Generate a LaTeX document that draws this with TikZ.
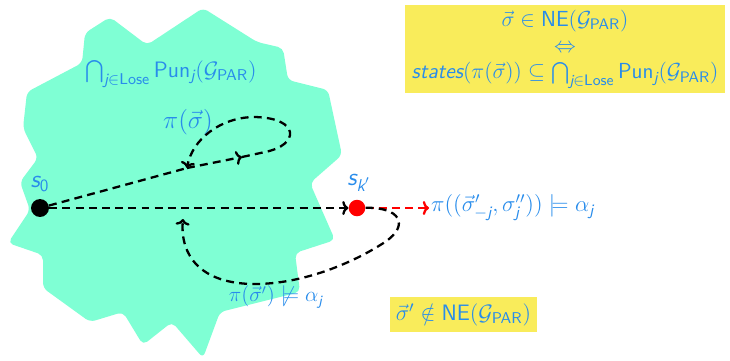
\RequirePackage{fix-cm}
\documentclass[tikz,border=0pt]{standalone}
\usepackage{amsmath,amssymb}
\usetikzlibrary{arrows.meta}
\definecolor{aqua}{RGB}{127,255,212}
\definecolor{lblblue}{RGB}{40,140,235}
\definecolor{boxyellow}{RGB}{249,236,91}
\newcommand{\sfit}[1]{\textsf{\itshape #1}}
\newcommand{\gpar}{\mathcal G_{\textsf{PAR}}}

\begin{document}
\begin{tikzpicture}[x=0.02cm,y=-0.02cm,>={To[length=3.5pt,width=8pt]},
    run/.style={line width=1.3pt,dash pattern=on 4.5pt off 3pt},
    lbl/.style={text=lblblue,inner sep=1pt},
    big/.style={font=\fontsize{12.7}{15}\selectfont},
    mid/.style={font=\fontsize{12}{14}\selectfont},
    state/.style={circle,inner sep=0pt},
    claim/.style={fill=boxyellow,text=lblblue,align=center,inner sep=2pt}]
  \useasboundingbox (0,0) rectangle (730,360);
  % region where the losers can be punished
  \fill[aqua,rounded corners=3pt] (110,17) -- (147,45) -- (203,8) -- (257,42)
    -- (283,48) -- (288,80) -- (328,90) -- (342,155) -- (310,183) -- (335,240)
    -- (295,253) -- (300,292) -- (220,312) -- (203,358) -- (172,322)
    -- (143,345) -- (123,312) -- (90,322) -- (43,288) -- (43,255) -- (8,243)
    -- (30,210) -- (20,182) -- (38,158) -- (23,128) -- (27,92) -- (82,63)
    -- (85,33) -- cycle;
  \node[lbl,big] (punlbl) at (171,74)
    {$\bigcap_{\sfit{j}\in\textsf{Lose}}\textsf{Pun}_{\sfit{j}}(\gpar)$};

  \node[state,fill=black,minimum size=10.2pt] (s0) at (40,208) {};
  \node[state,fill=red,minimum size=9.4pt] (sk) at (357,208) {};
  \node[lbl,font=\fontsize{14}{16}\selectfont] (s0lbl) at (40,184) {$\sfit{s}_{\textsf{0}}$};
  \node[lbl,font=\fontsize{14}{16}\selectfont] (sklbl) at (359,183) {$\sfit{s}_{\sfit{k}'}$};

  \coordinate (cross) at (187,168);
  \coordinate (mid1) at (242,157);
  \coordinate (knee) at (265,152);
  \coordinate (back) at (183,219);

  \node[lbl,font=\fontsize{14.5}{16}\selectfont] (pilbl) at (188,122) {$\pi(\vec\sigma)$};
  \node[lbl,mid] (devlbl) at (276,297) {$\pi(\vec\sigma')\not\models\alpha_{\sfit{j}}$};
  \node[lbl,font=\fontsize{12.9}{15}\selectfont,anchor=west] (goal) at (429,208)
    {$\pi((\vec\sigma'_{-\sfit{j}},\sigma''_{\sfit{j}}))\models\alpha_{\sfit{j}}$};

  % runs
  \draw[run,red,->] (sk) -- (goal);
  \draw[run,->] (s0) -- (sk);
  \draw[run] (s0) -- (cross);
  \draw[run,->] (cross) -- (mid1);
  \draw[run,->] (mid1) -- (knee) .. controls (300,145) and (300,118) .. (255,117)
    .. controls (220,117) and (192,140) .. (cross);
  \draw[run,->] (sk) .. controls (400,207) and (410,225) .. (385,242)
    .. controls (350,265) and (300,284) .. (255,284)
    .. controls (200,284) and (180,255) .. (back);

  \node[claim,minimum width=182pt,minimum height=50pt,
    font=\fontsize{12.4}{15}\selectfont] (iff) at (565,49)
    {$\vec\sigma\in\textsf{NE}(\gpar)$\\$\Leftrightarrow$\\
     $\sfit{states}(\pi(\vec\sigma))\subseteq\bigcap_{\sfit{j}\in\textsf{Lose}}\textsf{Pun}_{\sfit{j}}(\gpar)$};
  \node[claim,minimum width=83.6pt,minimum height=20pt,big] (notne) at (463.5,314.5)
    {$\vec\sigma'\notin\textsf{NE}(\gpar)$};
\end{tikzpicture}
\end{document}
